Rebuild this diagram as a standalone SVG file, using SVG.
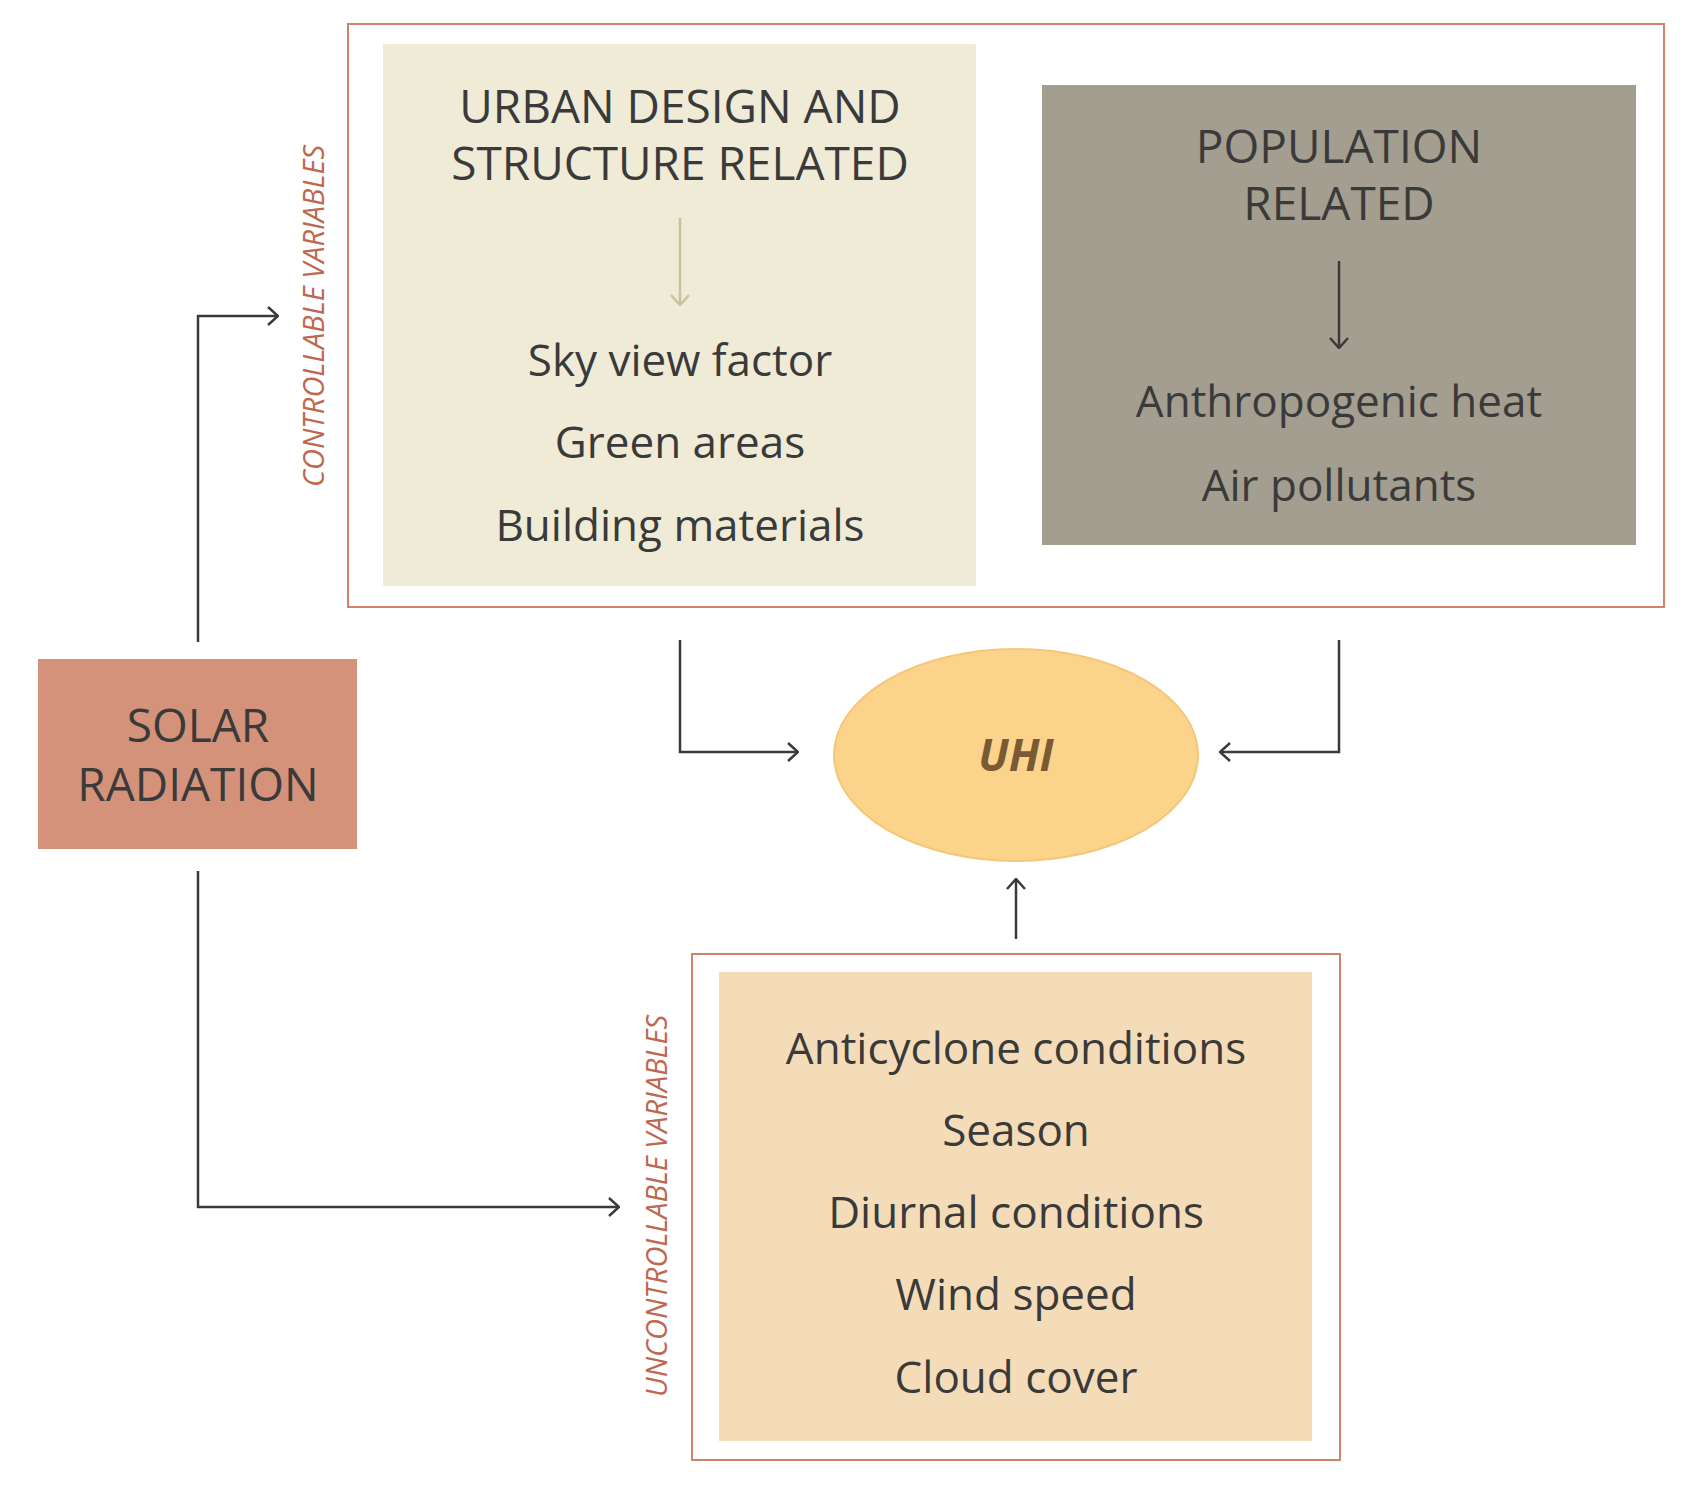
<svg xmlns="http://www.w3.org/2000/svg" width="1708" height="1490" viewBox="0 0 1708 1490">
<defs>
<style>
.t{font-family:"Open Sans","Liberation Sans",sans-serif;fill:#3a3a3a;text-anchor:middle;font-size:44px}
.h{font-size:46px}
.v{font-family:"Open Sans","Liberation Sans",sans-serif;fill:#c0674f;font-style:italic;font-size:29px;text-anchor:middle}
.c{fill:none;stroke:#3a3a3a;stroke-width:2.5}
.frame{fill:#fff;stroke:#d0826c;stroke-width:2}
</style>
<marker id="a" viewBox="0 0 12 20" refX="11" refY="10" markerWidth="12" markerHeight="20" markerUnits="userSpaceOnUse" orient="auto"><path d="M1 1L11 10L1 19" fill="none" stroke="#3a3a3a" stroke-width="2.5"/></marker>
<marker id="b" viewBox="0 0 12 20" refX="11" refY="10" markerWidth="12" markerHeight="20" markerUnits="userSpaceOnUse" orient="auto"><path d="M1 1L11 10L1 19" fill="none" stroke="#c9c3a0" stroke-width="2.5"/></marker>
</defs>
<rect width="1708" height="1490" fill="#fff"/>
<g id="controllable">
<rect class="frame" x="348" y="24" width="1316" height="583"/>
<text class="v" transform="translate(324,316) rotate(-90)">CONTROLLABLE VARIABLES</text>
</g>
<g id="urban">
<rect x="383" y="44" width="593" height="542" fill="#efebd6"/>
<text class="t h" x="680" y="123">URBAN DESIGN AND</text>
<text class="t h" x="680" y="180">STRUCTURE RELATED</text>
<line x1="680" y1="218" x2="680" y2="305" stroke="#c9c3a0" stroke-width="2.5" marker-end="url(#b)"/>
<text class="t" x="680" y="376">Sky view factor</text>
<text class="t" x="680" y="458">Green areas</text>
<text class="t" x="680" y="541">Building materials</text>
</g>
<g id="population">
<rect x="1042" y="85" width="594" height="460" fill="#a39e8f"/>
<text class="t h" x="1339" y="163">POPULATION</text>
<text class="t h" x="1339" y="220">RELATED</text>
<line x1="1339" y1="261" x2="1339" y2="348" stroke="#3a3a3a" stroke-width="2.5" marker-end="url(#a)"/>
<text class="t" x="1339" y="417">Anthropogenic heat</text>
<text class="t" x="1339" y="501">Air pollutants</text>
</g>
<g id="solar">
<rect x="38" y="659" width="319" height="190" fill="#d4927a"/>
<text class="t h" x="198" y="742">SOLAR</text>
<text class="t h" x="198" y="801">RADIATION</text>
</g>
<g id="uhi">
<ellipse cx="1016" cy="755" rx="182" ry="106" fill="#fcd38a" stroke="#f3c777" stroke-width="2"/>
<text x="1016" y="771" text-anchor="middle" font-family="Open Sans, Liberation Sans, sans-serif" font-size="44" font-weight="bold" font-style="italic" fill="#7a5a35">UHI</text>
</g>
<g id="uncontrollable">
<rect class="frame" x="692" y="954" width="648" height="506"/>
<text class="v" transform="translate(667,1206) rotate(-90)">UNCONTROLLABLE VARIABLES</text>
<rect x="719" y="972" width="593" height="469" fill="#f5dcb8"/>
<text class="t" x="1016" y="1064">Anticyclone conditions</text>
<text class="t" x="1016" y="1146">Season</text>
<text class="t" x="1016" y="1228">Diurnal conditions</text>
<text class="t" x="1016" y="1310">Wind speed</text>
<text class="t" x="1016" y="1393">Cloud cover</text>
</g>
<g id="connectors">
<path class="c" d="M198 642V316H278" marker-end="url(#a)"/>
<path class="c" d="M198 871V1207H619" marker-end="url(#a)"/>
<path class="c" d="M680 640V752H798" marker-end="url(#a)"/>
<path class="c" d="M1339 640V752H1220" marker-end="url(#a)"/>
<path class="c" d="M1016 939V879" marker-end="url(#a)"/>
</g>
</svg>
